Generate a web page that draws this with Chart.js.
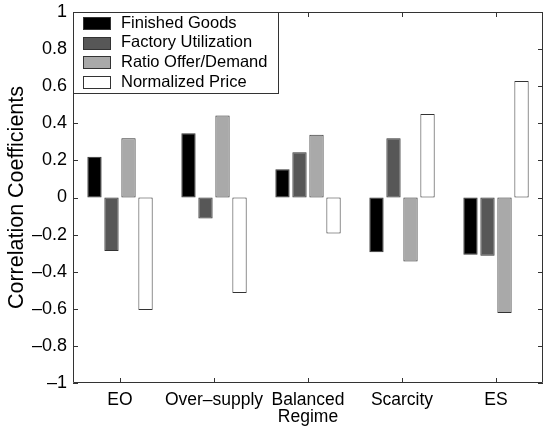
<!DOCTYPE html>
<html>
<head>
<meta charset="utf-8">
<script src="https://cdn.jsdelivr.net/npm/chart.js@4/dist/chart.umd.min.js"></script>
<style>
    html, body { margin: 0; padding: 0; background: #fff; }
    #wrap { width: 544px; height: 427px; position: relative; }
</style>
</head>
<body>
<div id="wrap"><canvas id="corr-chart"></canvas></div>
<script>
// Regimes along the x axis
var CATEGORIES = ['EO', 'Over\u2013supply', ['Balanced', 'Regime'], 'Scarcity', 'ES'];

// Series names, in legend order
var SERIES_NAMES = ['Finished Goods', 'Factory Utilization', 'Ratio Offer/Demand', 'Normalized Price'];

// Correlation coefficients per regime
var FINISHED_GOODS = [0.22, 0.347, 0.152, -0.295, -0.309];
var FACTORY_UTILIZATION = [-0.289, -0.113, 0.244, 0.32, -0.314];
var RATIO_OFFER_DEMAND = [0.32, 0.442, 0.338, -0.345, -0.623];
var NORMALIZED_PRICE = [-0.606, -0.515, -0.194, 0.45, 0.628];

// Y axis ticks and their labels
var Y_TICKS = [-1, -0.8, -0.6, -0.4, -0.2, 0, 0.2, 0.4, 0.6, 0.8, 1];
var Y_TICK_LABELS = ['\u20131', '\u20130.8', '\u20130.6', '\u20130.4', '\u20130.2', '0', '0.2', '0.4', '0.6', '0.8', '1'];

var FILLS = ['#000000', '#575757', '#a9a9a9', '#ffffff'];
var EDGE = '#333333';
var FONT = "'Liberation Sans', Arial, Helvetica, sans-serif";

/**
 * Draws the MATLAB style box, inward tick marks and the boxed legend.
 */
var framePlugin = {
    id: 'frame',
    afterDatasetsDraw: function (chart) {
        var ctx = chart.ctx;
        var a = chart.chartArea;
        var xs = chart.scales.x;
        var ys = chart.scales.y;
        var len = 5;
        var i, p;

        ctx.save();
        ctx.strokeStyle = EDGE;
        ctx.lineWidth = 1;
        ctx.beginPath();
        ctx.rect(a.left + 0.5, a.top + 0.5, a.right - a.left - 1, a.bottom - a.top - 1);

        for (i = 0; i < ys.ticks.length; i++) {
            p = Math.round(ys.getPixelForTick(i)) + 0.5;
            ctx.moveTo(a.left, p);
            ctx.lineTo(a.left + len, p);
            ctx.moveTo(a.right, p);
            ctx.lineTo(a.right - len, p);
        }
        for (i = 0; i < xs.ticks.length; i++) {
            p = Math.round(xs.getPixelForTick(i)) + 0.5;
            ctx.moveTo(p, a.bottom);
            ctx.lineTo(p, a.bottom - len);
            ctx.moveTo(p, a.top);
            ctx.lineTo(p, a.top + len);
        }
        ctx.stroke();
        ctx.restore();
    },
    afterDraw: function (chart) {
        var ctx = chart.ctx;
        var a = chart.chartArea;
        var sets = chart.data.datasets;
        var boxW = 205, boxH = 81;
        var rowH = 19.7;

        ctx.save();
        ctx.fillStyle = '#fff';
        ctx.strokeStyle = EDGE;
        ctx.lineWidth = 1;
        ctx.fillRect(a.left, a.top, boxW, boxH);
        ctx.strokeRect(a.left + 0.5, a.top + 0.5, boxW, boxH);

        ctx.font = '16.5px ' + FONT;
        ctx.textBaseline = 'middle';
        ctx.textAlign = 'left';
        for (var i = 0; i < sets.length; i++) {
            var cy = a.top + 11 + i * rowH;
            ctx.fillStyle = sets[i].backgroundColor;
            ctx.fillRect(a.left + 10.5, Math.round(cy - 6) + 0.5, 27, 12);
            ctx.strokeStyle = sets[i].borderColor;
            ctx.strokeRect(a.left + 10.5, Math.round(cy - 6) + 0.5, 27, 12);
            ctx.fillStyle = '#000';
            ctx.fillText(sets[i].label, a.left + 48, cy);
        }
        ctx.restore();
    }
};

function makeDataset(i, values) {
    return {
        label: SERIES_NAMES[i],
        data: values,
        backgroundColor: FILLS[i],
        borderColor: EDGE,
        borderWidth: 1,
        borderSkipped: false,
        categoryPercentage: 0.724,
        barPercentage: 0.84
    };
}

Chart.defaults.font.family = FONT;
Chart.defaults.color = '#000';

new Chart(document.getElementById('corr-chart').getContext('2d'), {
    type: 'bar',
    data: {
        labels: CATEGORIES,
        datasets: [
            makeDataset(0, FINISHED_GOODS),
            makeDataset(1, FACTORY_UTILIZATION),
            makeDataset(2, RATIO_OFFER_DEMAND),
            makeDataset(3, NORMALIZED_PRICE)
        ]
    },
    options: {
        responsive: true,
        maintainAspectRatio: false,
        animation: false,
        layout: { padding: { top: 12, right: 1, bottom: 0, left: 0 } },
        plugins: {
            legend: { display: false },
            tooltip: { enabled: false }
        },
        scales: {
            x: {
                grid: { display: false, drawTicks: false },
                border: { display: false },
                ticks: {
                    autoSkip: false,
                    maxRotation: 0,
                    padding: 8,
                    font: { size: 17.5, lineHeight: 1.0 }
                },
                afterFit: function (scale) {
                    scale.height = 44;
                    scale.paddingLeft = 0;
                    scale.paddingRight = 0;
                }
            },
            y: {
                min: -1,
                max: 1,
                grid: { display: false, drawTicks: false },
                border: { display: false },
                afterBuildTicks: function (scale) {
                    scale.ticks = Y_TICKS.map(function (v) { return { value: v }; });
                },
                ticks: {
                    padding: 6,
                    font: { size: 18 },
                    callback: function (value, index) { return Y_TICK_LABELS[index]; }
                },
                title: {
                    display: true,
                    text: 'Correlation Coefficients',
                    font: { size: 21.5 },
                    padding: { top: 4, bottom: 0 }
                },
                afterFit: function (scale) {
                    scale.width = 73;
                    scale.paddingTop = 0;
                    scale.paddingBottom = 0;
                }
            }
        }
    },
    plugins: [framePlugin]
});
</script>
</body>
</html>
